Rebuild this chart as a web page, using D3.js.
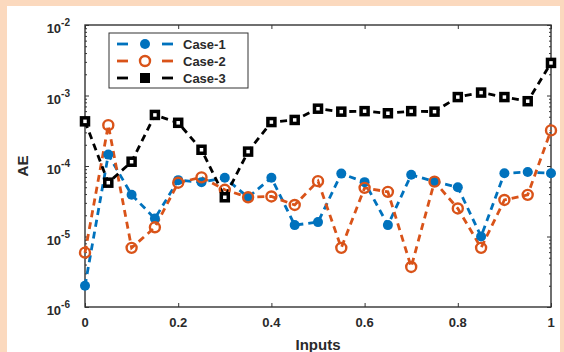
<!DOCTYPE html>
<html>
<head>
<meta charset="utf-8">
<script src="https://cdnjs.cloudflare.com/ajax/libs/d3/7.8.5/d3.min.js"></script>
<style>
  body { margin: 0; background: #fbd9be; }
  svg { display: block; }
  text { font-family: "Liberation Sans", Arial, sans-serif; fill: #2a2a2a; font-weight: bold; }
</style>
</head>
<body>
<div id="chart"></div>
<script>
// data
var inputs = [0, 0.05, 0.1, 0.15, 0.2, 0.25, 0.3, 0.35, 0.4, 0.45, 0.5,
              0.55, 0.6, 0.65, 0.7, 0.75, 0.8, 0.85, 0.9, 0.95, 1]
var case1 = [2.0e-6, 1.45e-4, 3.9e-5, 1.8e-5, 6.3e-5, 5.9e-5, 6.8e-5, 3.6e-5, 6.8e-5, 1.45e-5, 1.6e-5,
             7.8e-5, 5.9e-5, 1.45e-5, 7.5e-5, 6.0e-5, 5.0e-5, 1.0e-5, 7.9e-5, 8.2e-5, 7.9e-5]
var case2 = [5.9e-6, 3.8e-4, 6.9e-6, 1.35e-5, 5.8e-5, 6.9e-5, 4.6e-5, 3.6e-5, 3.7e-5, 2.8e-5, 6.1e-5,
             6.9e-6, 4.9e-5, 4.3e-5, 3.7e-6, 6.0e-5, 2.5e-5, 6.9e-6, 3.3e-5, 3.9e-5, 3.2e-4]
var case3 = [4.3e-4, 5.8e-5, 1.15e-4, 5.3e-4, 4.1e-4, 1.7e-4, 3.6e-5, 1.6e-4, 4.2e-4, 4.5e-4, 6.5e-4,
             5.9e-4, 6.0e-4, 5.6e-4, 6.0e-4, 5.9e-4, 9.5e-4, 1.1e-3, 9.5e-4, 8.3e-4, 2.9e-3]
var seriesNames = ["Case-1", "Case-2", "Case-3"]
var xTicks = [0, 0.2, 0.4, 0.6, 0.8, 1]
var yTicks = [1e-6, 1e-5, 1e-4, 1e-3, 1e-2]

var W = 564, H = 352
var margin = {top: 25, right: 13, bottom: 45, left: 85}
var pw = W - margin.left - margin.right
var ph = H - margin.top - margin.bottom

var colors = ["#0072bd", "#d95319", "#000000"]

var svg = d3.select("#chart").append("svg")
    .attr("width", W)
    .attr("height", H)

// white panel inside peach frame
svg.append("rect")
    .attr("x", 7).attr("y", 6)
    .attr("width", W - 11).attr("height", H - 6)
    .attr("fill", "#ffffff")

const g = svg.append("g")
    .attr("transform", `translate(${margin.left},${margin.top})`)

var x = d3.scaleLinear().domain([0, 1]).range([0, pw])
var y = d3.scaleLog().domain([1e-6, 1e-2]).range([ph, 0])

// minor log ticks
var minor = []
for (var e = -6; e < -2; e++) {
    for (var m = 2; m <= 9; m++) minor.push(m * Math.pow(10, e))
}

// bottom / top axes (ticks pointing inward)
g.append("g")
    .attr("transform", `translate(0,${ph})`)
    .call(d3.axisTop(x).tickValues(xTicks).tickSize(4).tickFormat(""))
g.append("g")
    .call(d3.axisBottom(x).tickValues(xTicks).tickSize(4).tickFormat(""))
// left / right
g.append("g")
    .call(d3.axisRight(y).tickValues(yTicks).tickSize(4).tickFormat(""))
g.append("g")
    .call(d3.axisRight(y).tickValues(minor).tickSize(2).tickFormat(""))
g.append("g")
    .attr("transform", `translate(${pw},0)`)
    .call(d3.axisLeft(y).tickValues(yTicks).tickSize(4).tickFormat(""))
g.append("g")
    .attr("transform", `translate(${pw},0)`)
    .call(d3.axisLeft(y).tickValues(minor).tickSize(2).tickFormat(""))

g.selectAll(".domain").remove()
g.selectAll(".tick line").attr("stroke", "#333").attr("stroke-width", 1)

// box
g.append("rect")
    .attr("width", pw).attr("height", ph)
    .attr("fill", "none")
    .attr("stroke", "#333")
    .attr("stroke-width", 1.4)

// tick labels
g.selectAll(".xlab").data(xTicks).enter().append("text")
    .attr("x", d => x(d))
    .attr("y", ph + 20)
    .attr("text-anchor", "middle")
    .attr("font-size", 13)
    .text(d => d3.format("")(d))

var ylab = g.selectAll(".ylab").data(yTicks).enter().append("text")
    .attr("x", -15)
    .attr("y", d => y(d) + 8)
    .attr("text-anchor", "end")
    .attr("font-size", 13)
ylab.append("tspan").text("10")
ylab.append("tspan")
    .attr("dy", -7)
    .attr("font-size", 10)
    .text(d => Math.round(Math.log10(d)))

// axis titles
svg.append("text")
    .attr("x", margin.left + pw / 2)
    .attr("y", H - 2)
    .attr("text-anchor", "middle")
    .attr("font-size", 15)
    .text("Inputs")
svg.append("text")
    .attr("transform", `translate(28,${margin.top + ph / 2}) rotate(-90)`)
    .attr("text-anchor", "middle")
    .attr("font-size", 15)
    .text("AE")

// series
var allSeries = [case1, case2, case3]
var line = d3.line()
    .x((d, i) => x(inputs[i]))
    .y(d => y(d))

allSeries.forEach((vals, k) => {
    g.append("path")
        .datum(vals)
        .attr("fill", "none")
        .attr("stroke", colors[k])
        .attr("stroke-width", 2.8)
        .attr("stroke-dasharray", "7,5")
        .attr("d", line)
})

function drawMarker(sel, k) {
    if (k === 0) {
        sel.append("circle").attr("r", 5).attr("fill", colors[0])
    } else if (k === 1) {
        sel.append("circle").attr("r", 5).attr("fill", "none")
            .attr("stroke", colors[1]).attr("stroke-width", 2.4)
    } else {
        sel.append("rect").attr("x", -3.5).attr("y", -3.5)
            .attr("width", 7).attr("height", 7)
            .attr("fill", "#fff").attr("stroke", "#000").attr("stroke-width", 3.5)
    }
}

allSeries.forEach((vals, k) => {
    vals.forEach((v, i) => {
        var m = g.append("g").attr("transform", `translate(${x(inputs[i])},${y(v)})`)
        drawMarker(m, k)
    })
})

// legend
var lg = svg.append("g").attr("transform", "translate(109,33)")
lg.append("rect")
    .attr("width", 139).attr("height", 55)
    .attr("fill", "#fff").attr("stroke", "#333").attr("stroke-width", 1)
seriesNames.forEach((name, k) => {
    var row = lg.append("g").attr("transform", `translate(0,${11 + k * 17})`)
    row.append("line").attr("x1", 8).attr("x2", 19).attr("stroke", colors[k]).attr("stroke-width", 2.8)
    row.append("line").attr("x1", 53).attr("x2", 64).attr("stroke", colors[k]).attr("stroke-width", 2.8)
    var mk = row.append("g").attr("transform", "translate(36,0)")
    if (k === 2) {
        mk.append("rect").attr("x", -4).attr("y", -4).attr("width", 8).attr("height", 8)
            .attr("fill", "#000").attr("stroke", "#000").attr("stroke-width", 2)
    } else {
        drawMarker(mk, k)
    }
    row.append("text")
        .attr("x", 74).attr("y", 5)
        .attr("font-size", 13)
        .text(name)
})
</script>
</body>
</html>
